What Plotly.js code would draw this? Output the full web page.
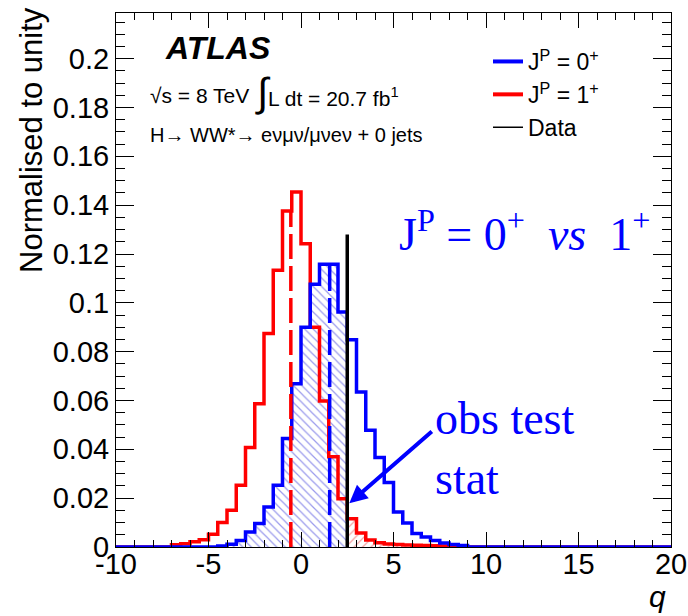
<!DOCTYPE html>
<html><head><meta charset="utf-8">
<script src="https://cdn.plot.ly/plotly-3.0.1.min.js"></script>
<style>html,body{margin:0;padding:0;background:#fff}</style>
</head><body><div id="chart" style="width:688px;height:616px"></div>
<script>
// ---- data ----
const binLeft = [-7.5,-7,-6.5,-6,-5.5,-5,-4.5,-4,-3.5,-3,-2.5,-2,-1.5,-1,-0.5,0,0.5,1,1.5,2,2.5,3,3.5,4,4.5,5,5.5,6,6.5,7,7.5,8,8.5,9];
const binWidth = 0.5;
const spin1Plus = [0,0.0009,0.0013,0.0021,0.0030,0.0052,0.0100,0.0150,0.0253,0.0407,0.0587,0.0874,0.1133,0.1376,0.1454,0.1242,0.0900,0.0598,0.0370,0.0198,0.0116,0.0057,0.0029,0.0017,0.0012,0.0010,0.0008,0.0007,0.0006,0.0005,0.0004,0.0003,0.0002,0];
const spin0Plus = [0,0,0,0,0,0,0.0004,0.0011,0.0027,0.0061,0.0096,0.0164,0.0253,0.0444,0.0669,0.0900,0.1076,0.1158,0.1158,0.0962,0.0849,0.0635,0.0478,0.0367,0.0264,0.0143,0.0098,0.0055,0.0041,0.0027,0.0016,0.0010,0.0006,0];
const qObs = 2.5;
const dataLineTop = 0.128;
const median0Plus = 1.55;
const median1Plus = -0.55;
const xRange = [-10, 20];
const yRange = [0, 0.2187];
const xTickVals = [-10,-5,0,5,10,15,20];
const xTickText = ['-10','-5','0','5','10','15','20'];
const legendNames = ['J<sup>P</sup> = 0<sup>+</sup>','J<sup>P</sup> = 1<sup>+</sup>','Data'];

// ---- helpers ----
const BLUE = '#0000ff', RED = '#ff0000';
function stepXY(vals){
  const xs=[xRange[0]], ys=[0];
  for(let i=0;i<binLeft.length;i++){ xs.push(binLeft[i]); ys.push(vals[i]); }
  xs.push(binLeft[binLeft.length-1]+binWidth); ys.push(0);
  xs.push(xRange[1]); ys.push(0);
  return {x:xs,y:ys};
}
function histAt(vals,q){
  const i = binLeft.findIndex(l => q>=l && q<l+binWidth);
  return i<0?0:vals[i];
}
function hatchBelow(vals,q){
  const xs=[], ys=[];
  for(let i=0;i<binLeft.length;i++){ if(binLeft[i]<q){ xs.push(binLeft[i]); ys.push(vals[i]); } }
  xs.push(q); ys.push(0);
  return {x:xs,y:ys};
}
function hatchAbove(vals,q){
  const xs=[q], ys=[histAt(vals,q)];
  for(let i=0;i<binLeft.length;i++){ if(binLeft[i]>q){ xs.push(binLeft[i]); ys.push(vals[i]); } }
  xs.push(binLeft[binLeft.length-1]+binWidth); ys.push(0);
  return {x:xs,y:ys};
}

const hb = hatchBelow(spin0Plus,qObs);
const hr = hatchAbove(spin1Plus,qObs);
const s1 = stepXY(spin1Plus);
const s0 = stepXY(spin0Plus);

const traces = [
  {x:hb.x,y:hb.y,type:'scatter',mode:'lines',line:{width:0,shape:'hv'},fill:'tozeroy',fillcolor:'rgba(0,0,0,0)',
   fillpattern:{shape:'\\',fgcolor:'#9a9aec',bgcolor:'rgba(255,255,255,0)',size:6,solidity:0.2},showlegend:false,hoverinfo:'skip'},
  {x:hr.x,y:hr.y,type:'scatter',mode:'lines',line:{width:0,shape:'hv'},fill:'tozeroy',fillcolor:'rgba(0,0,0,0)',
   fillpattern:{shape:'/',fgcolor:'#f4a0a0',bgcolor:'rgba(255,255,255,0)',size:6,solidity:0.2},showlegend:false,hoverinfo:'skip'},
  {x:s1.x,y:s1.y,type:'scatter',mode:'lines',line:{color:RED,width:3.5,shape:'hv'},showlegend:false},
  {x:s0.x,y:s0.y,type:'scatter',mode:'lines',line:{color:BLUE,width:3.5,shape:'hv'},showlegend:false},
  {x:[median1Plus,median1Plus],y:[0,histAt(spin1Plus,median1Plus)],type:'scatter',mode:'lines',line:{color:RED,width:3.5,dash:'25px,7px'},showlegend:false},
  {x:[median0Plus,median0Plus],y:[0,histAt(spin0Plus,median0Plus)],type:'scatter',mode:'lines',line:{color:BLUE,width:3.5,dash:'25px,7px'},showlegend:false},
  {x:[qObs,qObs],y:[0,dataLineTop],type:'scatter',mode:'lines',line:{color:'black',width:3.5},showlegend:false},
  // legend entries
  {x:[null],y:[null],type:'scatter',mode:'lines',name:legendNames[0],line:{color:BLUE,width:4}},
  {x:[null],y:[null],type:'scatter',mode:'lines',name:legendNames[1],line:{color:RED,width:4}},
  {x:[null],y:[null],type:'scatter',mode:'lines',name:legendNames[2],line:{color:'black',width:1.5}}
];

// pixel -> paper helpers (plot area 116..671 x 13..547)
const PL=116, PR=671, PT=13, PB=547;
const px = x => (x-PL)/(PR-PL);
const py = y => (PB-y)/(PB-PT);
const SANS = 'Liberation Sans, Arial, Helvetica, sans-serif';
const SERIF = 'Liberation Serif, Times New Roman, serif';
const NB = '\u00a0';

const annotations = [
  {xref:'paper',yref:'paper',x:px(163),y:py(48),xanchor:'left',yanchor:'middle',showarrow:false,
   text:'<b><i>ATLAS</i></b>',font:{family:SANS,size:32,color:'black'}},
  {xref:'paper',yref:'paper',x:px(148),y:py(95),xanchor:'left',yanchor:'middle',showarrow:false,
   text:'√s = 8 TeV',font:{family:SANS,size:21,color:'black'}},
  {xref:'paper',yref:'paper',x:px(253),y:py(92),xanchor:'left',yanchor:'middle',showarrow:false,
   text:'<span style="font-size:40px">∫</span>L dt = 20.7 fb<sup>1</sup>',font:{family:SANS,size:21,color:'black'}},
  {xref:'paper',yref:'paper',x:px(148),y:py(135),xanchor:'left',yanchor:'middle',showarrow:false,
   text:'H→ WW*→ eνμν/μνeν + 0 jets',font:{family:SANS,size:20,color:'black'}},
  {xref:'paper',yref:'paper',x:px(31),y:py(140),xanchor:'center',yanchor:'middle',showarrow:false,textangle:-90,
   text:'Normalised to unity',font:{family:SANS,size:31,color:'black'}},
  {xref:'paper',yref:'paper',x:px(657),y:py(596),xanchor:'center',yanchor:'middle',showarrow:false,
   text:'<i>q</i>',font:{family:SANS,size:30,color:'black'}},
  {xref:'paper',yref:'paper',x:px(397),y:py(231),xanchor:'left',yanchor:'middle',showarrow:false,
   text:'J<sup>P</sup> = 0<sup>+</sup> '+NB+'<i>vs</i>'+NB+' 1<sup>+</sup>',font:{family:SERIF,size:46,color:BLUE}},
  {xref:'paper',yref:'paper',x:px(433),y:py(448),xanchor:'left',yanchor:'middle',showarrow:false,align:'left',
   text:'obs test<br>stat',font:{family:SERIF,size:46,color:BLUE}},
  {xref:'x',yref:'y',x:qObs+0.11,y:0.0179,ax:84,ay:-73,axref:'pixel',ayref:'pixel',text:'',showarrow:true,
   arrowhead:2,arrowsize:0.9,arrowwidth:4,arrowcolor:BLUE,standoff:0}
];

const layout = {
  width:688,height:616,
  margin:{l:PL,r:688-PR,t:PT,b:616-PB,pad:0},
  paper_bgcolor:'white',plot_bgcolor:'white',
  font:{family:SANS,color:'black',size:29},
  showlegend:true,
  legend:{x:px(488),y:py(40),xanchor:'left',yanchor:'top',bgcolor:'rgba(0,0,0,0)',borderwidth:0,
          font:{family:SANS,size:23,color:'black'},itemwidth:30,tracegroupgap:0},
  xaxis:{range:xRange,tickmode:'array',tickvals:xTickVals,ticktext:xTickText,ticks:'inside',ticklen:15,tickwidth:1,tickcolor:'black',
         showline:true,linecolor:'black',linewidth:1,mirror:'allticks',showgrid:false,zeroline:false,
         ticklabelstandoff:-9,
         tickfont:{family:SANS,size:29,color:'black'},
         minor:{tickmode:'linear',tick0:-10,dtick:1,ticks:'inside',ticklen:7,tickwidth:1,tickcolor:'black',showgrid:false}},
  yaxis:{range:yRange,tickmode:'linear',tick0:0,dtick:0.02,ticks:'inside',ticklen:18,tickwidth:1,tickcolor:'black',
         showline:true,linecolor:'black',linewidth:1,mirror:'allticks',showgrid:false,zeroline:false,
         tickfont:{family:SANS,size:29,color:'black'},
         minor:{tickmode:'linear',tick0:0,dtick:0.005,ticks:'inside',ticklen:9,tickwidth:1,tickcolor:'black',showgrid:false}},
  annotations:annotations
};

Plotly.newPlot('chart',traces,layout,{displayModeBar:false,staticPlot:true});
</script></body></html>
